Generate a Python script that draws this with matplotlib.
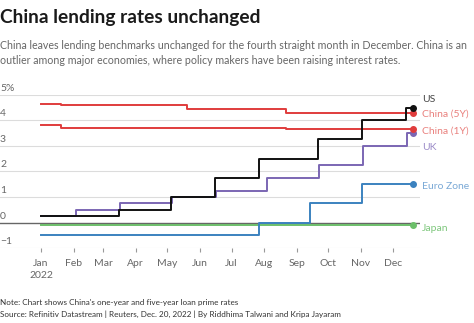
import datetime as dt
import matplotlib
matplotlib.use("Agg")
import matplotlib.pyplot as plt
import matplotlib.dates as mdates

plt.rcParams["font.family"] = ["Lato", "DejaVu Sans"]

D = dt.date

# step series: (start date, rate) pairs, ending at the last date
end_date = D(2022, 12, 20)

china5y_dates = [D(2022, 1, 1), D(2022, 1, 20), D(2022, 5, 20), D(2022, 8, 22)]
china5y_rates = [4.65, 4.60, 4.45, 4.30]

china1y_dates = [D(2022, 1, 1), D(2022, 1, 20), D(2022, 8, 22)]
china1y_rates = [3.80, 3.70, 3.65]

us_dates = [D(2022, 1, 1), D(2022, 3, 16), D(2022, 5, 4), D(2022, 6, 15),
            D(2022, 7, 27), D(2022, 9, 21), D(2022, 11, 2), D(2022, 12, 14)]
us_rates = [0.25, 0.50, 1.00, 1.75, 2.50, 3.25, 4.00, 4.50]

uk_dates = [D(2022, 1, 1), D(2022, 2, 3), D(2022, 3, 17), D(2022, 5, 5),
            D(2022, 6, 16), D(2022, 8, 4), D(2022, 9, 22), D(2022, 11, 3),
            D(2022, 12, 15)]
uk_rates = [0.25, 0.50, 0.75, 1.00, 1.25, 1.75, 2.25, 3.00, 3.50]

euro_dates = [D(2022, 1, 1), D(2022, 7, 27), D(2022, 9, 14), D(2022, 11, 2)]
euro_rates = [-0.50, 0.00, 0.75, 1.50]

japan_dates = [D(2022, 1, 1)]
japan_rates = [-0.10]

series = [
    ("Japan", japan_dates, japan_rates, "#6cbf6a", "#7fc77d", -0.12),
    ("Euro Zone", euro_dates, euro_rates, "#3b82bf", "#7aa9d6", -0.1),
    ("UK", uk_dates, uk_rates, "#7b66b3", "#9c8cc8", -0.58),
    ("China (1Y)", china1y_dates, china1y_rates, "#e03c3c", "#e9807d", -0.06),
    ("China (5Y)", china5y_dates, china5y_rates, "#e03c3c", "#e9807d", -0.06),
    ("US", us_dates, us_rates, "#111111", "#444444", 0.33),
]

fig = plt.figure(figsize=(4.74, 3.23), dpi=100)
ax = fig.add_axes([0.0, 0.2313, 0.886, 0.4755])

for name, dates, rates, color, lcolor, off in series:
    xs = list(dates) + [end_date]
    ys = list(rates) + [rates[-1]]
    ax.step(xs, ys, where="post", color=color, lw=1.4, zorder=3)
    ax.plot([end_date], [rates[-1]], "o", color=color, ms=4, zorder=4)
    ax.annotate(name, xy=(end_date, rates[-1] + off), xytext=(7, 0),
                textcoords="offset points", va="center", ha="left",
                fontsize=7.5, color=lcolor, annotation_clip=False)

ax.set_ylim(-1, 5)
ax.set_xlim(D(2021, 11, 23), D(2022, 12, 27))
for s in ax.spines.values():
    s.set_visible(False)

for v in range(-1, 6):
    ax.axhline(v, color="#666666" if v == 0 else "#dcdcdc",
               lw=1.0 if v == 0 else 0.8, zorder=1)
    lab = "5%" if v == 5 else ("\u22121" if v == -1 else str(v))
    ax.text(0.0, v + 0.26, lab, transform=ax.get_yaxis_transform(),
            ha="left", va="center", fontsize=7.5, color="#666666")
ax.set_yticks([])

months = [D(2022, m, 1) for m in range(1, 13)]
ax.set_xticks(months)
ax.set_xticklabels([m.strftime("%b") + ("\n2022" if m.month == 1 else "")
                    for m in months])
ax.tick_params(axis="x", length=3, color="#999999", labelsize=7.5,
               labelcolor="#666666", pad=5)
for t in ax.get_xticklabels():
    t.set_verticalalignment("top")
    t.set_linespacing(1.3)

fig.text(0.0, 0.945, "China lending rates unchanged", fontsize=13.8,
         fontweight="bold", color="#1a1a1a", va="center", ha="left")
fig.text(0.0, 0.835,
         "China leaves lending benchmarks unchanged for the fourth straight month in December. China is an\n"
         "outlier among major economies, where policy makers have been raising interest rates.",
         fontsize=7.65, color="#666666", va="center", ha="left", linespacing=1.42)
fig.text(0.0, 0.045,
         "Note: Chart shows China's one-year and five-year loan prime rates\n"
         "Source: Refinitiv Datastream | Reuters, Dec. 20, 2022 | By Riddhima Talwani and Kripa Jayaram",
         fontsize=5.9, color="#333333", va="center", ha="left", linespacing=1.55)

fig.savefig("out.png", dpi=100)
